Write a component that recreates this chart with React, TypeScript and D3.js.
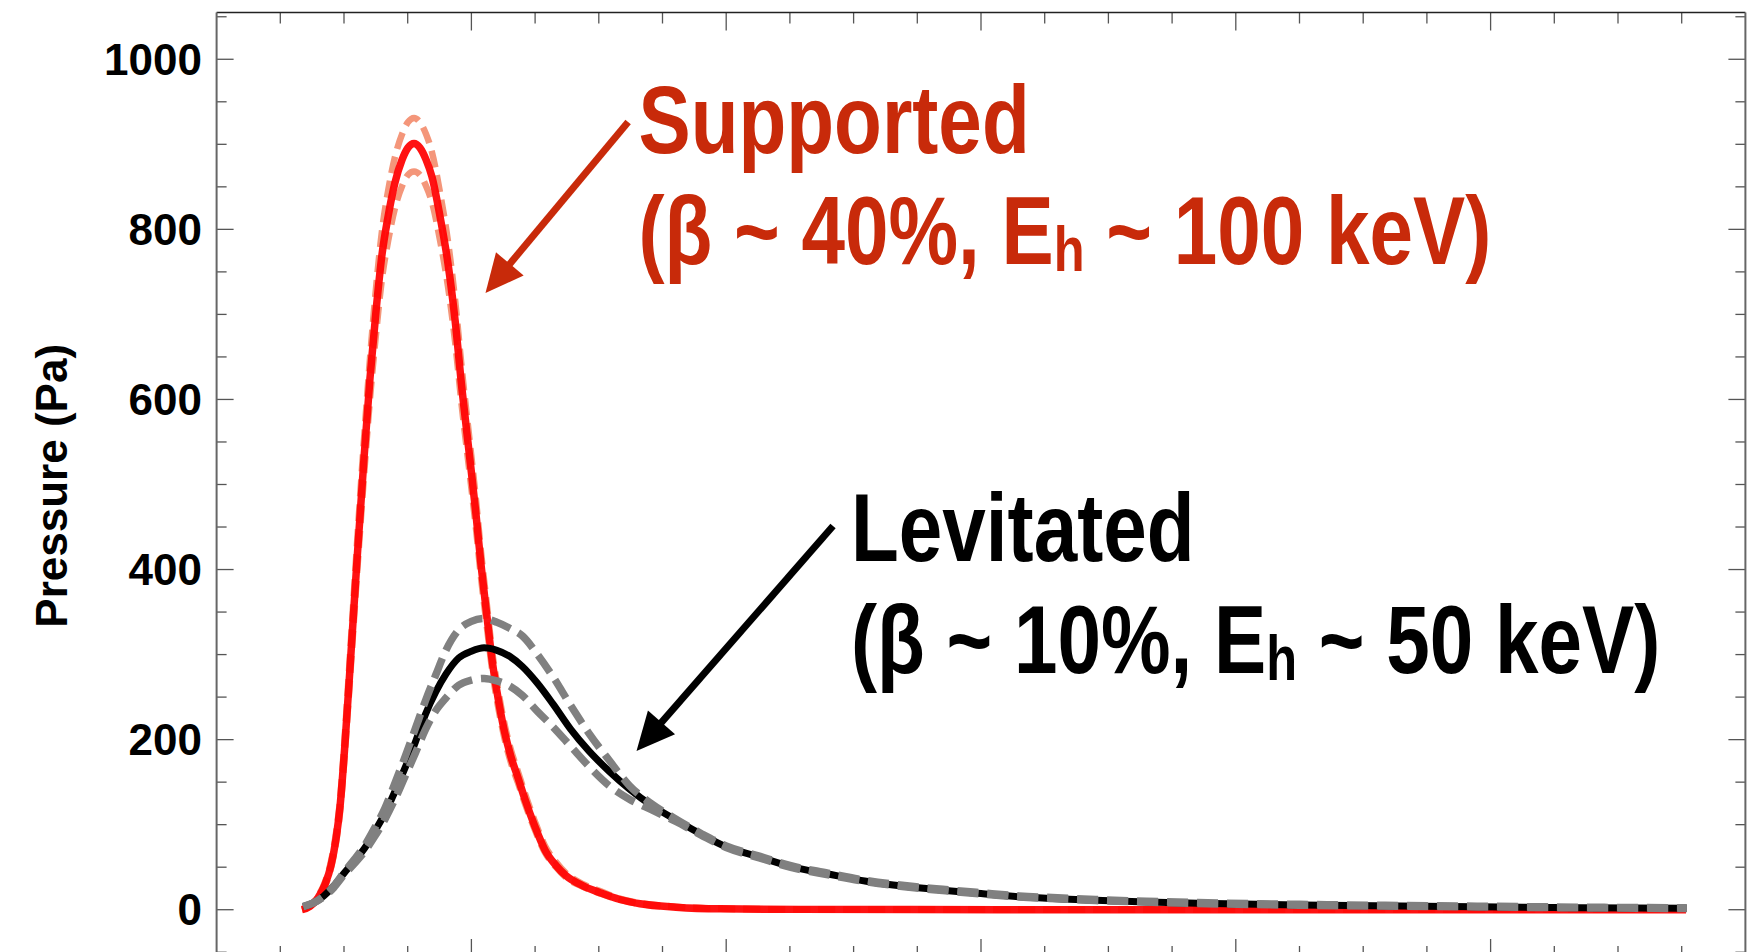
import React from "react";
import * as d3 from "d3";

// Radial pressure profiles of a dipole plasma (supported vs. levitated coil)

const radiusSupported = [
  0.335, 0.367, 0.398, 0.426, 0.449, 0.469, 0.484, 0.504, 0.524, 0.551,
  0.579, 0.602, 0.626, 0.649, 0.673, 0.7, 0.728, 0.751, 0.775, 0.798,
  0.822, 0.845, 0.877, 0.908, 0.936, 0.963, 0.994, 1.018, 1.038, 1.061,
  1.081, 1.104, 1.128, 1.155, 1.183, 1.21, 1.249, 1.289, 1.332, 1.371,
  1.438, 1.505, 1.583, 1.662, 1.803, 1.976, 2.29, 3.075, 5.767,
];
const pressureSupported = [
  0, 4, 14, 30, 52, 84, 120, 196, 286, 411,
  533, 625, 705, 770, 815, 855, 882, 896, 901, 896,
  882, 862, 815, 760, 693, 612, 530, 465, 405, 345,
  294, 250, 212, 180, 155, 130, 98, 70, 52, 40,
  28, 20, 12, 7, 3, 1, 0.4, 0.1, 0,
];
const pressureSupportedHigh = [
  0, 5, 16, 33, 57, 91, 128, 209, 302, 430,
  555, 648, 732, 798, 845, 885, 912, 926, 931, 926,
  912, 891, 843, 786, 717, 634, 549, 482, 420, 358,
  305, 260, 221, 188, 162, 137, 104, 75, 56, 43,
  30, 22, 13, 8, 3.5, 1.2, 0.5, 0.1, 0,
];
const pressureSupportedLow = [
  0, 3.8, 13, 28, 49, 79, 113, 186, 273, 394,
  512, 601, 678, 742, 786, 825, 851, 864, 868, 864,
  851, 832, 787, 733, 668, 590, 511, 448, 390, 332,
  283, 240, 204, 173, 149, 125, 94, 67, 50, 38,
  27, 19, 11.5, 6.7, 2.9, 1, 0.4, 0.1, 0,
];

const radiusLevitated = [
  0.34, 0.38, 0.42, 0.46, 0.5, 0.54, 0.58, 0.62, 0.66, 0.7,
  0.74, 0.78, 0.82, 0.86, 0.9, 0.95, 1.0, 1.05, 1.1, 1.15,
  1.2, 1.26, 1.32, 1.39, 1.46, 1.54, 1.62, 1.71, 1.8, 1.9,
  2.0, 2.13, 2.25, 2.4, 2.55, 2.7, 2.85, 3.0, 3.15, 3.3,
  3.45, 3.65, 3.85, 4.25, 4.65, 4.95, 5.35, 5.77,
];
const pressureLevitated = [
  3.5, 8, 16, 28, 43, 57, 72, 92, 113, 139,
  167, 197, 230, 256, 277, 296, 304, 308, 305, 298,
  286, 266, 242, 212, 187, 163, 142, 122, 106, 89,
  74, 62, 51, 42, 33.5, 27.5, 23, 19, 15.2, 13,
  11, 9.2, 7.6, 5.5, 4.3, 3.5, 2.4, 1.6,
];
const pressureLevitatedHigh = [
  4, 8, 16, 28, 44, 59, 75, 96, 119, 149,
  180, 213, 246, 276, 305, 329, 339, 342.5, 338, 331,
  322, 300, 274, 240, 208, 176, 146, 124, 107, 90,
  75, 63, 52, 43, 34.5, 28.5, 24, 20, 16.2, 14,
  12, 10, 8.4, 6.3, 5, 4.2, 3, 2.2,
];
const pressureLevitatedLow = [
  3.5, 8, 15, 26, 41, 54, 68, 86, 106, 130,
  157, 184, 212, 234, 249, 264, 270, 272, 269, 263,
  252, 233, 215, 192, 169, 146, 130, 117, 104, 88,
  73, 61, 50, 41, 33, 27, 22.5, 18.5, 15, 12.8,
  10.8, 9, 7.4, 5.3, 4.1, 3.3, 2.2, 1.4,
];

const pressureTicks = [0, 200, 400, 600, 800, 1000];
const radiusDomain = [0, 6];
const pressureDomain = [-55.6, 1055];

// annotation anchors in data coordinates: [radius, pressure]
const supportedLabelAt = [1.656, 890.1];
const levitatedLabelAt = [2.49, 410.4];
const supportedArrow = { from: [1.615, 926.2], to: [1.0553, 725.1] };
const levitatedArrow = { from: [2.4192, 451.2], to: [1.648, 186.6] };

const W = 1747;
const H = 952;

const SANS = "'Liberation Sans', Arial, Helvetica, sans-serif";
const TEXT_RED = "#C82A0A";
const CONDENSE = 0.815;

function Arrow({ x1, y1, x2, y2, color }: { x1: number; y1: number; x2: number; y2: number; color: string }) {
  const dx = x2 - x1;
  const dy = y2 - y1;
  const len = Math.hypot(dx, dy);
  const ux = dx / len;
  const uy = dy / len;
  const headLen = 38;
  const halfW = 18;
  const bx = x2 - ux * headLen;
  const by = y2 - uy * headLen;
  const px = -uy;
  const py = ux;
  const head = `M${x2},${y2} L${bx + px * halfW},${by + py * halfW} L${bx - px * halfW},${by - py * halfW} Z`;
  return (
    <g>
      <line x1={x1} y1={y1} x2={bx + ux * 4} y2={by + uy * 4} stroke={color} strokeWidth={7} />
      <path d={head} fill={color} />
    </g>
  );
}

function Label({
  x0,
  y0,
  title,
  main,
  after,
  color,
  gap,
}: {
  x0: number;
  y0: number;
  title: string;
  main: string;
  after: string;
  color: string;
  gap: number;
}) {
  return (
    <g transform={`translate(${x0},${y0}) scale(${CONDENSE},1)`}>
      <text fontFamily={SANS} fontWeight="bold" fontSize={96} fill={color}>
        <tspan x={0} y={0}>{title}</tspan>
        <tspan x={0} y={gap}>{main}</tspan>
        <tspan fontSize={62} dy={7}>h</tspan>
        <tspan dy={-7}>{after}</tspan>
      </text>
    </g>
  );
}

export default function App() {
  const left = 216.6;
  const right = 1745.4;
  const top = 12.5;
  const bottom = 957;

  const x = d3.scaleLinear().domain(radiusDomain).range([left, right]);
  const y = d3.scaleLinear().domain(pressureDomain).range([bottom, top]);

  const path = (xs: number[], ys: number[]) =>
    d3
      .line<number>()
      .x((_, i) => x(xs[i]))
      .y((d) => y(d))
      .curve(d3.curveMonotoneX)(ys) || "";

  const xMinor = d3.range(0.25, 6, 0.25).filter((v) => Math.abs(v - Math.round(v)) > 1e-6);
  const xMajor = d3.range(1, 6, 1);
  const yMinor = d3.range(-50, 1051, 50).filter((v) => v % 200 !== 0);

  const tickColor = "#555";

  return (
    <svg width={W} height={H} style={{ position: "absolute", left: 0, top: 0, background: "#fff" }}>
      <rect x={0} y={0} width={W} height={H} fill="#fff" />

      {/* ticks along top and bottom */}
      {xMinor.map((v) => (
        <g key={`xm${v}`} stroke={tickColor} strokeWidth={1.3}>
          <line x1={x(v)} x2={x(v)} y1={top} y2={top + 11} />
          <line x1={x(v)} x2={x(v)} y1={bottom} y2={bottom - 11} />
        </g>
      ))}
      {xMajor.map((v) => (
        <g key={`xM${v}`} stroke={tickColor} strokeWidth={1.3}>
          <line x1={x(v)} x2={x(v)} y1={top} y2={top + 18} />
          <line x1={x(v)} x2={x(v)} y1={bottom} y2={bottom - 18} />
        </g>
      ))}

      {/* ticks along left and right */}
      {yMinor.map((v) => (
        <g key={`ym${v}`} stroke={tickColor} strokeWidth={1.3}>
          <line x1={left} x2={left + 10} y1={y(v)} y2={y(v)} />
          <line x1={right} x2={right - 10} y1={y(v)} y2={y(v)} />
        </g>
      ))}
      {pressureTicks.map((v) => (
        <g key={`yM${v}`} stroke={tickColor} strokeWidth={1.3}>
          <line x1={left} x2={left + 17} y1={y(v)} y2={y(v)} />
          <line x1={right} x2={right - 17} y1={y(v)} y2={y(v)} />
        </g>
      ))}

      {/* frame */}
      <line x1={left} x2={right} y1={top} y2={top} stroke="#222" strokeWidth={1.3} />
      <line x1={left} x2={right} y1={bottom} y2={bottom} stroke="#222" strokeWidth={1.3} />
      <line x1={left} x2={left} y1={top} y2={bottom} stroke="#666" strokeWidth={2} />
      <line x1={right} x2={right} y1={top} y2={bottom} stroke="#666" strokeWidth={2} />

      {/* tick labels */}
      {pressureTicks.map((v) => (
        <text
          key={`yl${v}`}
          x={202}
          y={y(v) + 15.7}
          textAnchor="end"
          fontFamily={SANS}
          fontWeight="bold"
          fontSize={44}
          fill="#000"
        >
          {d3.format("d")(v)}
        </text>
      ))}

      <text
        transform={`translate(67,485.8) rotate(-90)`}
        textAnchor="middle"
        fontFamily={SANS}
        fontWeight="bold"
        fontSize={44}
        fill="#000"
      >
        Pressure (Pa)
      </text>

      {/* supported profile */}
      <g fill="none" strokeLinecap="butt" strokeLinejoin="round">
        <path d={path(radiusSupported, pressureSupportedHigh)} stroke="#F4967A" strokeWidth={6.5} strokeDasharray="17 8" />
        <path d={path(radiusSupported, pressureSupportedLow)} stroke="#F4967A" strokeWidth={6.5} strokeDasharray="17 8" />
        <path d={path(radiusSupported, pressureSupported)} stroke="#FF0000" strokeWidth={7.5} opacity={0.93} />
      </g>

      {/* levitated profile */}
      <g fill="none" strokeLinecap="butt" strokeLinejoin="round">
        <path d={path(radiusLevitated, pressureLevitated)} stroke="#000" strokeWidth={7} />
        <path d={path(radiusLevitated, pressureLevitatedHigh)} stroke="#808080" strokeWidth={7.5} strokeDasharray="21 9" />
        <path d={path(radiusLevitated, pressureLevitatedLow)} stroke="#808080" strokeWidth={7.5} strokeDasharray="21 9" />
      </g>

      {/* annotations */}
      <Arrow
        x1={x(supportedArrow.from[0])}
        y1={y(supportedArrow.from[1])}
        x2={x(supportedArrow.to[0])}
        y2={y(supportedArrow.to[1])}
        color={TEXT_RED}
      />
      <Arrow
        x1={x(levitatedArrow.from[0])}
        y1={y(levitatedArrow.from[1])}
        x2={x(levitatedArrow.to[0])}
        y2={y(levitatedArrow.to[1])}
        color="#000"
      />

      <Label
        x0={x(supportedLabelAt[0])}
        y0={y(supportedLabelAt[1])}
        title="Supported"
        main="(β ~ 40%, E"
        after=" ~ 100 keV)"
        color={TEXT_RED}
        gap={111.3}
      />
      <Label
        x0={x(levitatedLabelAt[0])}
        y0={y(levitatedLabelAt[1])}
        title="Levitated"
        main="(β ~ 10%, E"
        after=" ~ 50 keV)"
        color="#000"
        gap={112}
      />
    </svg>
  );
}
